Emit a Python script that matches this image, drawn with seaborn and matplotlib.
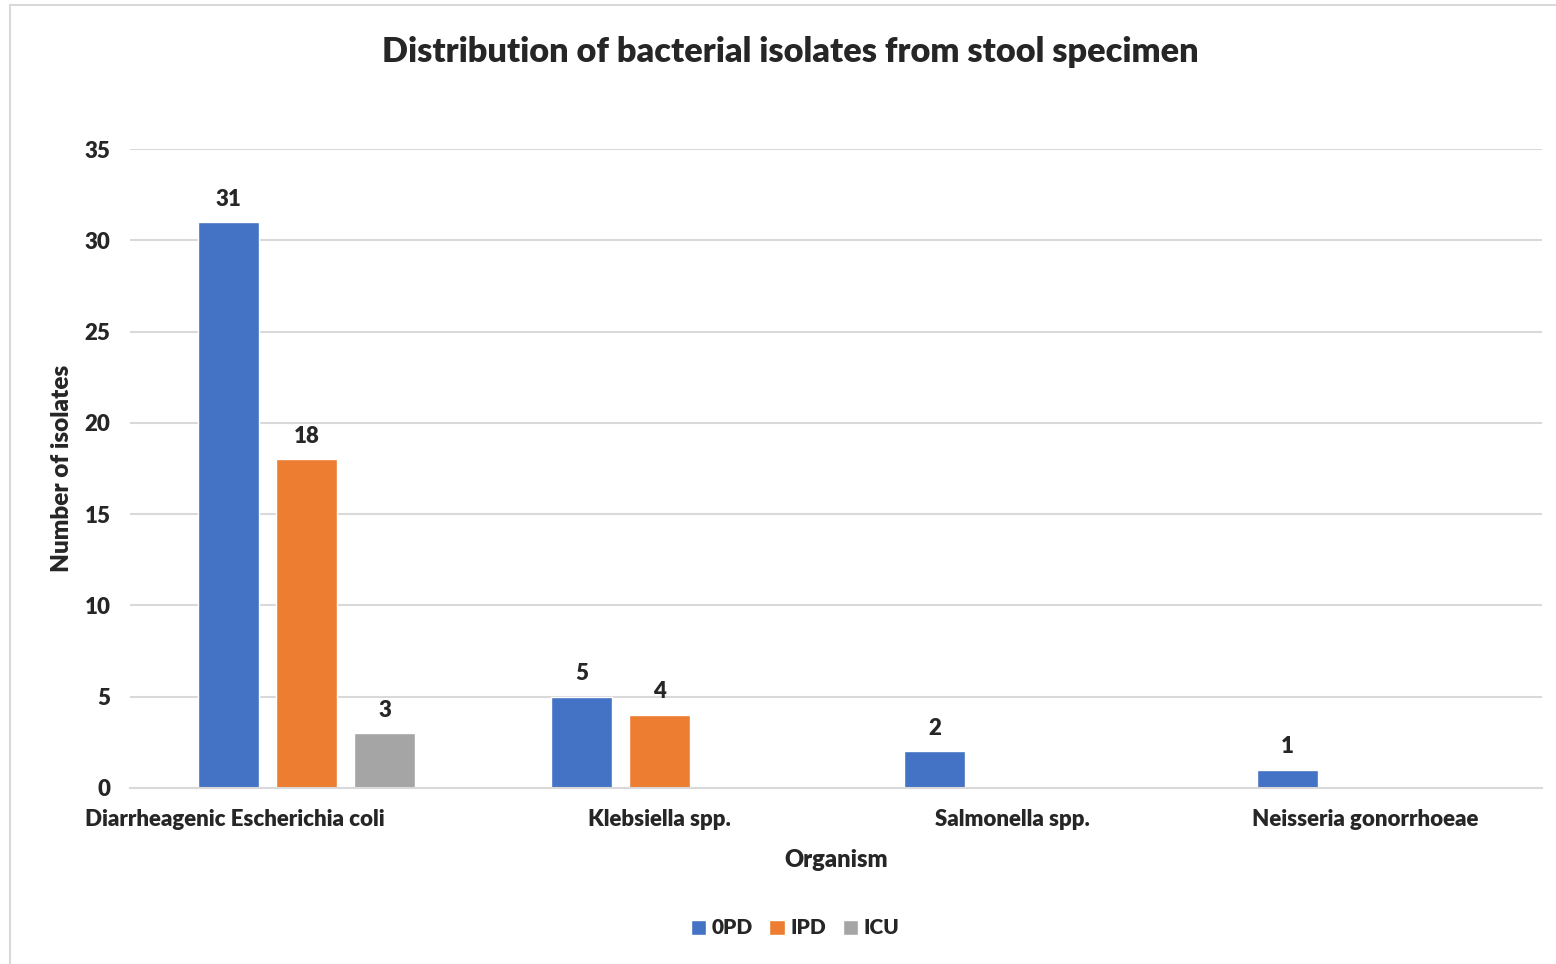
import matplotlib
matplotlib.use("Agg")
import matplotlib.pyplot as plt
import matplotlib.transforms as mtransforms
from matplotlib.patches import Rectangle
import pandas as pd
import seaborn as sns

organisms = ["Diarrheagenic Escherichia coli", "Klebsiella spp.",
             "Salmonella spp.", "Neisseria gonorrhoeae"]
opd = [31, 5, 2, 1]
ipd = [18, 4, 0, 0]
icu = [3, 0, 0, 0]
wards = ["0PD", "IPD", "ICU"]
colors = ["#4472C4", "#ED7D31", "#A5A5A5"]

df = pd.DataFrame({"Organism": organisms, "0PD": opd, "IPD": ipd, "ICU": icu})
df_long = df.melt(id_vars="Organism", var_name="Ward", value_name="Count")

sns.set_theme(style="white")
plt.rcParams['font.family'] = ['Lato', 'DejaVu Sans']

fig = plt.figure(figsize=(15.56, 9.64), dpi=100)
ax = fig.add_axes([130 / 1556, 1 - 788 / 964, 1412 / 1556, 639 / 964])

sns.barplot(data=df_long, x="Organism", y="Count", hue="Ward", hue_order=wards,
            palette=colors, saturation=1, width=0.663, gap=0.22, ax=ax, legend=True)

ax.set_ylim(0, 35)
ax.set_xlim(-0.5, 3.5)
ax.set_yticks(range(0, 36, 5))
ax.yaxis.grid(True, color="#D9D9D9", linewidth=1.5)
ax.set_axisbelow(True)
for side in ["left", "right", "top"]:
    ax.spines[side].set_visible(False)
ax.spines["bottom"].set_color("#D9D9D9")
ax.spines["bottom"].set_linewidth(1.5)
ax.tick_params(axis="both", length=0, labelsize=16)
ax.tick_params(axis="x", pad=15)
ax.tick_params(axis="y", pad=14)
for lab in ax.get_xticklabels() + ax.get_yticklabels():
    lab.set_fontweight("heavy")

# first label sits left of its group in the original
first = ax.get_xticklabels()[0]
first.set_transform(first.get_transform() +
                    mtransforms.ScaledTranslation(-0.72, 0, fig.dpi_scale_trans))

for container in ax.containers:
    labels = [f"{int(v)}" if v > 0 else "" for v in container.datavalues]
    ax.bar_label(container, labels=labels, padding=9, fontsize=16, fontweight="heavy")

ax.set_xlabel("Organism", fontsize=17, fontweight="heavy", labelpad=14)
ax.set_ylabel("Number of isolates", fontsize=17.5, fontweight="heavy", labelpad=8)

fig.suptitle("Distribution of bacterial isolates from stool specimen",
             x=0.508, y=0.963, fontsize=24.7, fontweight="heavy")

leg = ax.legend(loc="center", bbox_to_anchor=(795 / 1556, 1 - 928 / 964),
                bbox_transform=fig.transFigure, ncol=3, frameon=False,
                fontsize=15, handlelength=0.75, handleheight=0.75,
                handletextpad=0.25, columnspacing=0.8)
for t in leg.get_texts():
    t.set_fontweight("heavy")

fig.add_artist(Rectangle((10 / 1556, -0.02), 1.1, 1 - 5 / 964 + 0.02,
                         transform=fig.transFigure, fill=False,
                         edgecolor="#D9D9D9", linewidth=1.5))

fig.savefig("out.png", dpi=100)
